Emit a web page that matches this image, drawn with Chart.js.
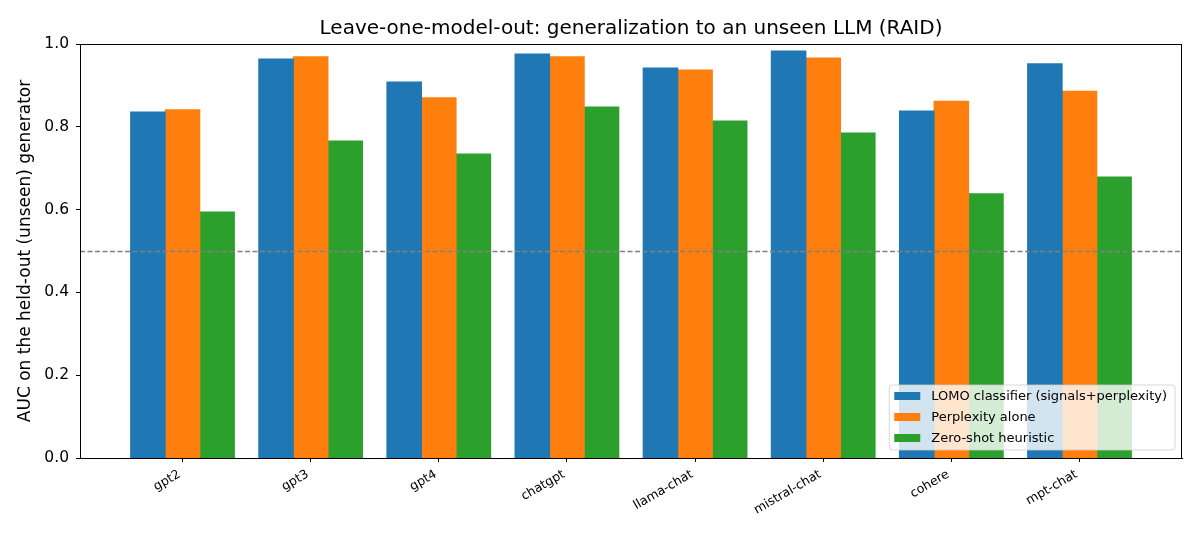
<!DOCTYPE html>
<html lang="en">
<head>
  <meta charset="UTF-8">
  <title>Leave-one-model-out</title>
  <script src="https://cdn.jsdelivr.net/npm/chart.js"></script>
  <style>
    html, body {
      margin: 0;
      padding: 0;
      background: #fff;
    }
    #wrap {
      width: 1200px;
      height: 540px;
    }
  </style>
</head>
<body>
  <div id="wrap"><canvas id="lomoChart" width="1200" height="540"></canvas></div>

  <script>
    const models = ["gpt2", "gpt3", "gpt4", "chatgpt", "llama-chat", "mistral-chat", "cohere", "mpt-chat"];
    const lomoAuc = [0.836, 0.964, 0.908, 0.976, 0.942, 0.983, 0.838, 0.952];
    const perplexityAuc = [0.841, 0.969, 0.870, 0.969, 0.937, 0.966, 0.862, 0.886];
    const zeroShotAuc = [0.594, 0.766, 0.734, 0.848, 0.814, 0.785, 0.638, 0.679];
    const yTicks = [0, 0.2, 0.4, 0.6, 0.8, 1.0];
    const chanceLevel = 0.5;
    const titleText = "Leave-one-model-out: generalization to an unseen LLM (RAID)";

    const FONT = "'DejaVu Sans', sans-serif";

    const toPoints = arr => arr.map((v, i) => ({ x: i, y: v }));

    // title centred over the axes, like matplotlib does
    const titlePlugin = {
      id: "axTitle",
      afterDraw(chart) {
        const { ctx, chartArea } = chart;
        ctx.save();
        ctx.font = "20px " + FONT;
        ctx.fillStyle = "#000";
        ctx.textAlign = "center";
        ctx.textBaseline = "alphabetic";
        ctx.fillText(titleText, (chartArea.left + chartArea.right) / 2, 34);
        ctx.restore();
      }
    };

    // dashed chance line + full box around the axes
    const framePlugin = {
      id: "frame",
      afterDatasetsDraw(chart) {
        const { ctx, chartArea, scales } = chart;
        const y = Math.round(scales.y.getPixelForValue(chanceLevel)) + 0.5;
        ctx.save();
        ctx.strokeStyle = "#808080";
        ctx.lineWidth = 1.3;
        ctx.setLineDash([5, 2.5]);
        ctx.beginPath();
        ctx.moveTo(chartArea.left, y);
        ctx.lineTo(chartArea.right, y);
        ctx.stroke();
        ctx.setLineDash([]);
        ctx.strokeStyle = "#000";
        ctx.lineWidth = 1;
        ctx.strokeRect(chartArea.left + 0.5, chartArea.top + 0.5,
                       chartArea.right - chartArea.left - 1, chartArea.bottom - chartArea.top);
        ctx.restore();
      }
    };

    // legend drawn inside the axes, lower right
    const legendPlugin = {
      id: "innerLegend",
      afterDatasetsDraw(chart) {
        const { ctx, chartArea } = chart;
        const sets = chart.data.datasets;
        ctx.save();
        ctx.font = "13px " + FONT;
        const textW = Math.max(...sets.map(d => ctx.measureText(d.label).width));
        const rowH = 21;
        const w = 5 + 26 + 11 + textW + 8;
        const h = 11 + rowH * (sets.length - 1) + 12;
        const right = chartArea.right - 7;
        const bottom = chartArea.bottom - 8;
        const left = right - w;
        const top = bottom - h;

        ctx.beginPath();
        ctx.roundRect(left, top, w, h, 3);
        ctx.fillStyle = "rgba(255,255,255,0.8)";
        ctx.fill();
        ctx.strokeStyle = "rgba(204,204,204,0.8)";
        ctx.lineWidth = 1;
        ctx.stroke();

        sets.forEach((d, i) => {
          const cy = top + 11 + i * rowH;
          ctx.fillStyle = d.backgroundColor;
          ctx.fillRect(left + 5, cy - 4, 26, 8);
          ctx.fillStyle = "#000";
          ctx.textAlign = "left";
          ctx.textBaseline = "middle";
          ctx.fillText(d.label, left + 5 + 26 + 11, cy + 1);
        });
        ctx.restore();
      }
    };

    new Chart(document.getElementById("lomoChart"), {
      type: "bar",
      data: {
        datasets: [
          { label: "LOMO classifier (signals+perplexity)", data: toPoints(lomoAuc), backgroundColor: "#1f77b4" },
          { label: "Perplexity alone", data: toPoints(perplexityAuc), backgroundColor: "#ff7f0e" },
          { label: "Zero-shot heuristic", data: toPoints(zeroShotAuc), backgroundColor: "#2ca02c" }
        ]
      },
      options: {
        responsive: false,
        animation: false,
        events: [],
        layout: { padding: { top: 44, right: 18, bottom: 0, left: 0 } },
        datasets: {
          bar: { categoryPercentage: 0.81, barPercentage: 1.0, borderWidth: 0, inflateAmount: 0.5 }
        },
        scales: {
          x: {
            type: "linear",
            min: -0.8,
            max: 7.8,
            offset: false,
            afterBuildTicks: scale => {
              scale.ticks = models.map((_, i) => ({ value: i }));
            },
            afterFit: scale => { scale.height = 82; },
            ticks: {
              autoSkip: false,
              minRotation: 30,
              maxRotation: 30,
              padding: 5,
              labelOffset: -3,
              color: "#000",
              font: { family: FONT, size: 12.5 },
              callback: v => models[v] ?? ""
            },
            grid: {
              offset: false,
              drawOnChartArea: false,
              drawTicks: true,
              tickLength: 4,
              color: "#000"
            },
            border: { color: "#000", width: 1 }
          },
          y: {
            min: 0,
            max: 1,
            afterBuildTicks: scale => {
              scale.ticks = yTicks.map(v => ({ value: v }));
            },
            afterFit: scale => { scale.width = 80; },
            ticks: {
              padding: 7,
              color: "#000",
              font: { family: FONT, size: 15.5 },
              callback: v => v.toFixed(1)
            },
            grid: {
              drawOnChartArea: false,
              drawTicks: true,
              tickLength: 4,
              color: "#000"
            },
            border: { color: "#000", width: 1 },
            title: {
              display: true,
              text: "AUC on the held-out (unseen) generator",
              color: "#000",
              font: { family: FONT, size: 17 },
              padding: { top: 15, bottom: 0 }
            }
          }
        },
        plugins: {
          legend: { display: false },
          title: { display: false },
          tooltip: { enabled: false }
        }
      },
      plugins: [framePlugin, legendPlugin, titlePlugin]
    });
  </script>
</body>
</html>
